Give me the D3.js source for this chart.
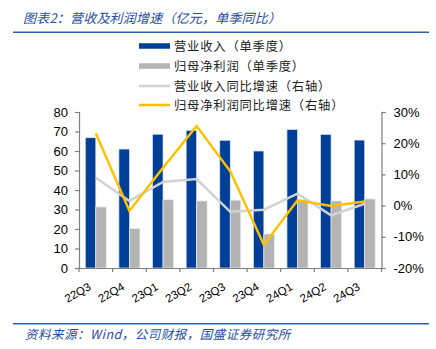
<!DOCTYPE html>
<html><head><meta charset="utf-8">
<script src="https://cdn.jsdelivr.net/npm/d3@7"></script>
<style>
html,body{margin:0;padding:0;background:#fff;}
svg{display:block;}
</style></head>
<body>
<svg id="c" width="436" height="349"></svg>
<script>
const categories = ["22Q3","22Q4","23Q1","23Q2","23Q3","23Q4","24Q1","24Q2","24Q3"];
const revenue = [66.8, 61.0, 68.6, 70.6, 65.5, 60.0, 71.0, 68.5, 65.6];
const netProfit = [31.3, 20.2, 35.0, 34.4, 34.8, 17.4, 35.2, 34.4, 35.4];
const revenueYoY = [0.089, 0.015, 0.076, 0.085, -0.020, -0.013, 0.038, -0.031, 0.006];
const profitYoY = [0.232, -0.017, 0.121, 0.255, 0.110, -0.126, 0.017, -0.001, 0.013];
const leftTicks = [0,10,20,30,40,50,60,70,80];
const rightTicks = [-0.2,-0.1,0,0.1,0.2,0.3];
const legendLabels = ["营业收入（单季度）","归母净利润（单季度）","营业收入同比增速（右轴）","归母净利润同比增速（右轴）"];
const titleText = "图表2：营收及利润增速（亿元，单季同比）";
const sourceText = "资料来源：Wind，公司财报，国盛证券研究所";

const svg = d3.select("#c");
const blue = "#003f98", grey = "#b3b3b3", lgrey = "#d2d2d2", yellow = "#ffc000";
const textBlue = "#1f4e9e", ruleBlue = "#2b62b8";
const latin = "'Liberation Sans', Arial, sans-serif";
const cjk = "'Noto Sans CJK SC', sans-serif";

const x0 = 79, x1 = 381.5, yTop = 112, yBot = 268;
const x = d3.scaleBand().domain(categories).range([x0, x1]).padding(0);
const yL = d3.scaleLinear().domain([0,80]).range([yBot, yTop]);
const yR = d3.scaleLinear().domain([-0.2,0.3]).range([yBot, yTop]);

// title & rules
svg.append("text").attr("x",23).attr("y",23).attr("fill",textBlue)
  .attr("font-family",cjk).attr("font-size",13).attr("letter-spacing",0.2)
  .attr("font-style","italic").text(titleText);
svg.append("line").attr("x1",13).attr("x2",429).attr("y1",32.3).attr("y2",32.3)
  .attr("stroke",ruleBlue).attr("stroke-width",1.6);
svg.append("line").attr("x1",13).attr("x2",429).attr("y1",323.7).attr("y2",323.7)
  .attr("stroke",ruleBlue).attr("stroke-width",1.6);
svg.append("text").attr("x",25).attr("y",338.5).attr("fill",textBlue)
  .attr("font-family",cjk).attr("font-size",12.5).attr("letter-spacing",0.5)
  .attr("font-style","italic").text(sourceText);

// bars
const bw = 10.5;
const cx = d => x(d) + x.bandwidth()/2;
svg.append("g").selectAll("rect").data(categories).join("rect")
  .attr("x", d => cx(d) - bw).attr("width", bw)
  .attr("y", (d,i) => yL(revenue[i])).attr("height", (d,i) => yBot - yL(revenue[i]))
  .attr("fill", blue).attr("stroke","#dfe6f2").attr("stroke-width",0.7);
svg.append("g").selectAll("rect").data(categories).join("rect")
  .attr("x", d => cx(d)).attr("width", bw)
  .attr("y", (d,i) => yL(netProfit[i])).attr("height", (d,i) => yBot - yL(netProfit[i]))
  .attr("fill", grey).attr("stroke","#ececec").attr("stroke-width",0.7);

// axes
const axisColor = "#7f7f7f";
const gL = svg.append("g").attr("transform",`translate(${x0},0)`)
  .call(d3.axisLeft(yL).tickValues(leftTicks).tickSize(4).tickPadding(7).tickFormat(d3.format("d")));
const gR = svg.append("g").attr("transform",`translate(${x1},0)`)
  .call(d3.axisRight(yR).tickValues(rightTicks).tickSize(4).tickPadding(8).tickFormat(d3.format(".0%")));
[gL,gR].forEach(g => {
  g.select(".domain").attr("stroke",axisColor).attr("stroke-width",1.2);
  g.selectAll(".tick line").attr("stroke",axisColor).attr("stroke-width",1.2);
  g.selectAll("text").attr("font-family",latin).attr("font-size",13).attr("fill","#000");
});
gR.selectAll(".tick text").text(d => d3.format(".0%")(d).replace("−","-"));

const gB = svg.append("g").attr("transform",`translate(0,${yBot})`)
  .call(d3.axisBottom(x).tickSize(0).tickFormat(""));
gB.select(".domain").attr("stroke",axisColor).attr("stroke-width",1.2);
gB.selectAll(".tick").remove();
const bounds = categories.map(d => x(d)).concat([x1]);
gB.selectAll("line.bt").data(bounds).join("line").attr("class","bt")
  .attr("x1",d=>d).attr("x2",d=>d).attr("y1",0).attr("y2",4)
  .attr("stroke",axisColor).attr("stroke-width",1.2);
svg.append("g").selectAll("text").data(categories).join("text")
  .attr("transform", d => `translate(${cx(d)-4},${289}) rotate(-30)`)
  .attr("text-anchor","end").attr("font-family",latin).attr("font-size",11.5).attr("fill","#000")
  .text(d => d);

// lines
const lineGen = arr => d3.line().x((d,i) => cx(categories[i])).y(d => yR(d))(arr);
svg.append("path").attr("d", lineGen(revenueYoY)).attr("fill","none")
  .attr("stroke",lgrey).attr("stroke-width",2.5).attr("stroke-linejoin","miter");
svg.append("path").attr("d", lineGen(profitYoY)).attr("fill","none")
  .attr("stroke",yellow).attr("stroke-width",2.5).attr("stroke-linejoin","miter");

// legend
const legY = [46, 66, 86, 105];
const legStyles = [
  {c:blue, h:5.5}, {c:grey, h:5.5}, {c:lgrey, h:2.5}, {c:yellow, h:2.5}
];
const lg = svg.append("g");
legendLabels.forEach((t,i) => {
  lg.append("rect").attr("x",139).attr("width",31).attr("y",legY[i]-legStyles[i].h/2)
    .attr("height",legStyles[i].h).attr("fill",legStyles[i].c);
  lg.append("text").attr("x",174).attr("y",legY[i]+4.5).attr("font-family",cjk)
    .attr("font-size",12.3).attr("letter-spacing",0.8).attr("fill","#222").text(t);
});
</script>
</body></html>
